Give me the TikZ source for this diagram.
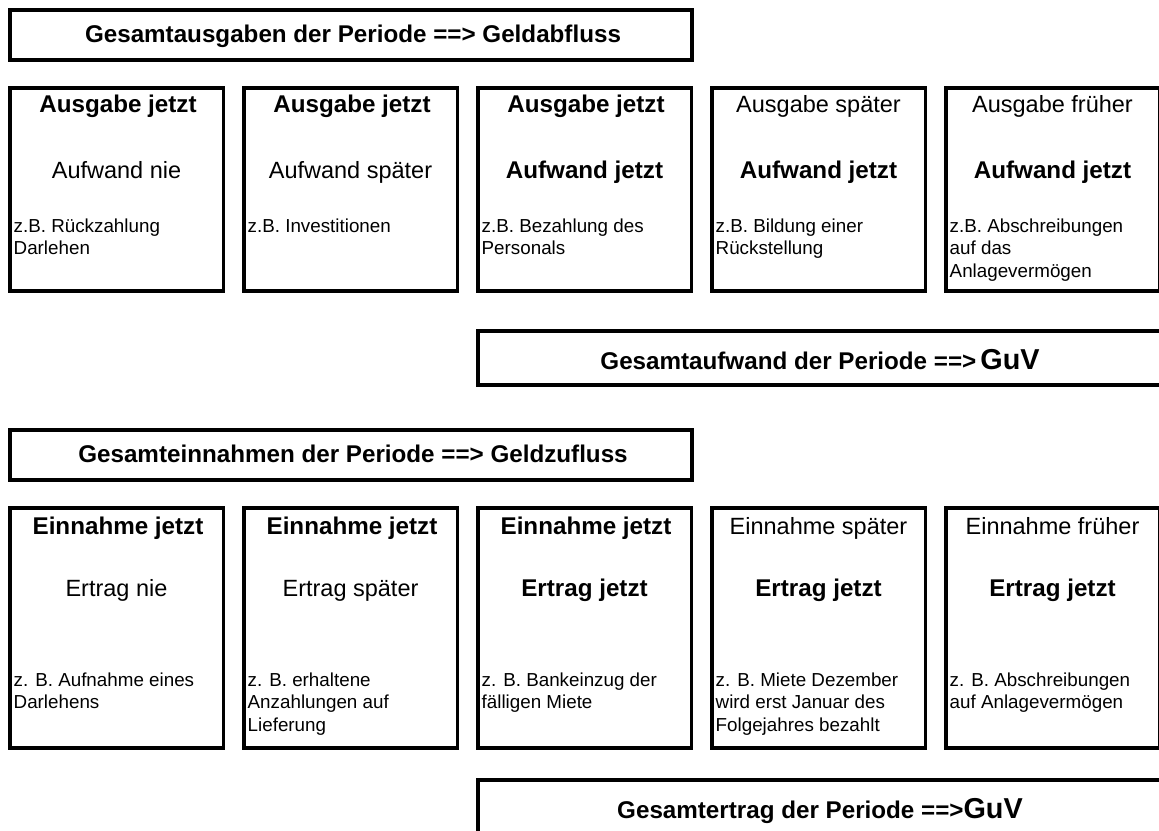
\documentclass[tikz,border=0pt]{standalone}
\usepackage{fontspec}
\setmainfont{Liberation Sans}
\newcommand\twolines[2]{\vtop{\hbox{#1}\hbox{#2}}}
\newcommand\threelines[3]{\vtop{\hbox{#1}\hbox{#2}\hbox{#3}}}
\tikzset{
  frm/.style={draw=black, line width=3.5pt, inner sep=0pt},
  colbox/.style={frm, minimum width=213.5pt, minimum height=203pt},
  colboxtall/.style={frm, minimum width=213.5pt, minimum height=240pt},
  banner/.style={frm, minimum width=682pt, minimum height=50pt},
  guvbanner/.style={frm, minimum width=684pt, minimum height=54pt},
  txt/.style={font=\fontsize{23.5}{28}\selectfont, anchor=base, inner sep=0pt},
  txtb/.style={font=\fontsize{24.2}{28}\selectfont\bfseries, anchor=base, inner sep=0pt},
  note/.style={font=\fontsize{18.8}{22.5}\selectfont, anchor=base west, inner sep=0pt},
}
\newcommand\guv{\fontsize{28.8}{32}\selectfont GuV}
\begin{document}
\begin{tikzpicture}[x=1pt,y=-1pt]
\useasboundingbox (0,0) rectangle (1159,830);
\clip (0,0) rectangle (1159,830);

% ---------- Ausgaben ----------
\node[banner] (h1) at (351,35) {};
\node[txtb] (h1t) at (353,42) {Gesamtausgaben der Periode ==> Geldabfluss};

\node[colbox] (a1) at (116.5,189.5) {};
\node[colbox] (a2) at (350.5,189.5) {};
\node[colbox] (a3) at (584.5,189.5) {};
\node[colbox] (a4) at (818.5,189.5) {};
\node[colbox] (a5) at (1052.5,189.5) {};

\node[txtb] (a1t) at (118,112) {Ausgabe jetzt};
\node[txtb] (a2t) at (352,112) {Ausgabe jetzt};
\node[txtb] (a3t) at (586,112) {Ausgabe jetzt};
\node[txt]  (a4t) at (818.5,112) {Ausgabe später};
\node[txt]  (a5t) at (1052.5,112) {Ausgabe früher};

\node[txt]  (a1m) at (116.5,178) {Aufwand nie};
\node[txt]  (a2m) at (350.5,178) {Aufwand später};
\node[txtb] (a3m) at (584.5,178) {Aufwand jetzt};
\node[txtb] (a4m) at (818.5,178) {Aufwand jetzt};
\node[txtb] (a5m) at (1052.5,178) {Aufwand jetzt};

\node[note] (a1n) at (13.5,232) {\twolines{z.B. Rückzahlung}{Darlehen}};
\node[note] (a2n) at (247.5,232) {z.B. Investitionen};
\node[note] (a3n) at (481.5,232) {\twolines{z.B. Bezahlung des}{Personals}};
\node[note] (a4n) at (715.5,232) {\twolines{z.B. Bildung einer}{Rückstellung}};
\node[note] (a5n) at (949.5,232) {\threelines{z.B. Abschreibungen}{auf das}{Anlagevermögen}};

\node[guvbanner] (g1) at (820,358) {};
\node[txtb] (g1t) at (820,369) {Gesamtaufwand der Periode ==>\,\guv};

% ---------- Einnahmen ----------
\node[banner] (h2) at (351,455) {};
\node[txtb] (h2t) at (353,462) {Gesamteinnahmen der Periode ==> Geldzufluss};

\node[colboxtall] (e1) at (116.5,628) {};
\node[colboxtall] (e2) at (350.5,628) {};
\node[colboxtall] (e3) at (584.5,628) {};
\node[colboxtall] (e4) at (818.5,628) {};
\node[colboxtall] (e5) at (1052.5,628) {};

\node[txtb] (e1t) at (118,534) {Einnahme jetzt};
\node[txtb] (e2t) at (352,534) {Einnahme jetzt};
\node[txtb] (e3t) at (586,534) {Einnahme jetzt};
\node[txt]  (e4t) at (818.5,534) {Einnahme später};
\node[txt]  (e5t) at (1052.5,534) {Einnahme früher};

\node[txt]  (e1m) at (116.5,596) {Ertrag nie};
\node[txt]  (e2m) at (350.5,596) {Ertrag später};
\node[txtb] (e3m) at (584.5,596) {Ertrag jetzt};
\node[txtb] (e4m) at (818.5,596) {Ertrag jetzt};
\node[txtb] (e5m) at (1052.5,596) {Ertrag jetzt};

\node[note] (e1n) at (13.5,686) {\twolines{z. B. Aufnahme eines}{Darlehens}};
\node[note] (e2n) at (247.5,686) {\threelines{z. B. erhaltene}{Anzahlungen auf}{Lieferung}};
\node[note] (e3n) at (481.5,686) {\twolines{z. B. Bankeinzug der}{fälligen Miete}};
\node[note] (e4n) at (715.5,686) {\threelines{z. B. Miete Dezember}{wird erst Januar des}{Folgejahres bezahlt}};
\node[note] (e5n) at (949.5,686) {\twolines{z. B. Abschreibungen}{auf Anlagevermögen}};

\node[frm, minimum width=684pt, minimum height=80pt] (g2) at (820,820) {};
\node[txtb] (g2t) at (820,818) {Gesamtertrag der Periode ==>\guv};
\end{tikzpicture}
\end{document}
